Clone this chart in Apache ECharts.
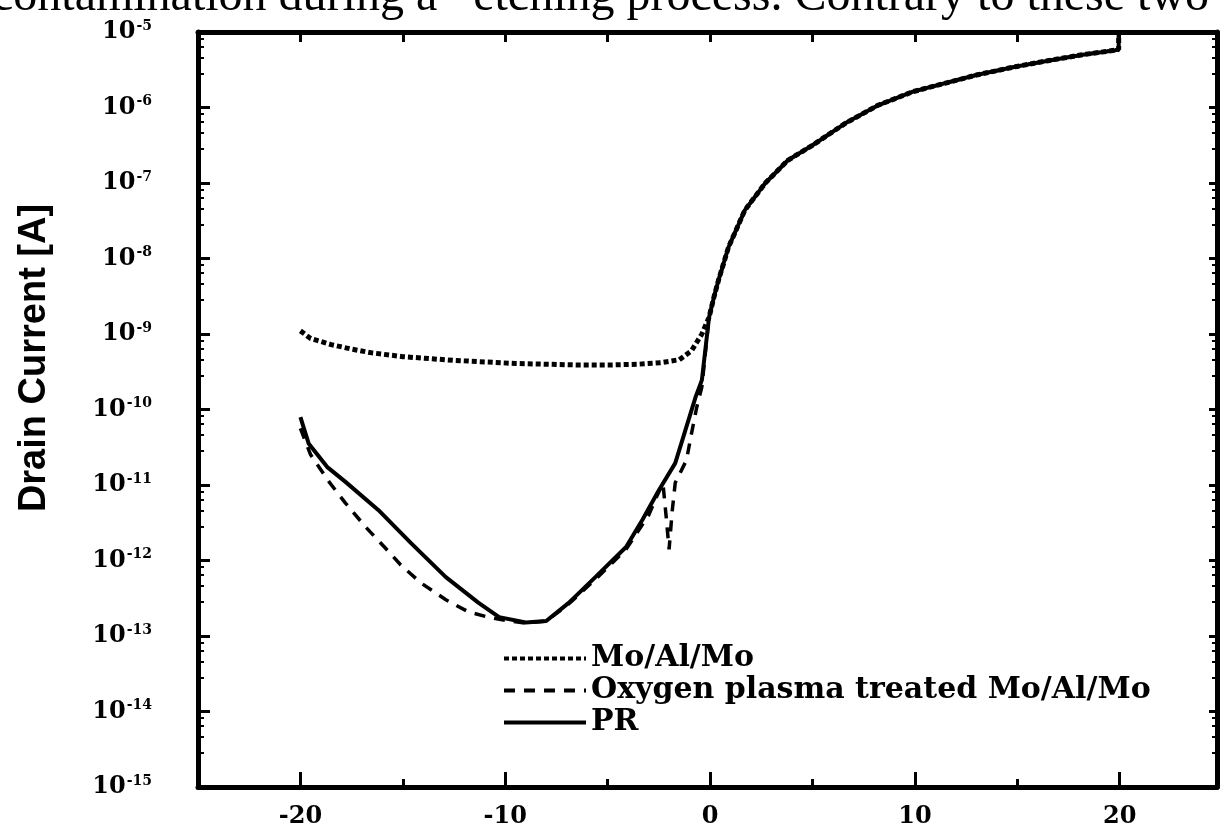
<!DOCTYPE html>
<html>
<head>
<meta charset="utf-8">
<title>Drain Current</title>
<script src="https://cdn.jsdelivr.net/npm/echarts@6.0.0/dist/echarts.min.js"></script>
<style>
  html, body { margin: 0; padding: 0; background: #fff; }
  #chart { width: 1222px; height: 832px; }
</style>
</head>
<body>
<div id="chart"></div>
<script>
// gate voltage [V] and drain current [A]
const moVg = [-20, -19.5, -18.5, -17.5, -16.5, -15, -14, -12.5, -11, -9.5, -8, -6.5, -4.8, -3.5, -2.4, -1.5, -0.9, -0.4];
const moId = [1.10e-9, 8.71e-10, 7.24e-10, 6.31e-10, 5.62e-10, 5.01e-10, 4.79e-10, 4.47e-10, 4.27e-10, 4.07e-10, 3.98e-10, 3.89e-10, 3.89e-10, 3.98e-10, 4.17e-10, 4.57e-10, 6.03e-10, 1.0e-9];

const oxVg = [-20, -19.5, -18.6, -17.8, -16.8, -15.9, -15.1, -14.1, -12.9, -11.8, -10.7, -9.8, -9.0, -8.0, -7.0, -5.6, -4.1, -3.0, -2.6, -2.3, -2.15, -2.0, -1.85, -1.7, -1.15, -0.9, -0.65, -0.4];
const oxId = [5.62e-11, 2.51e-11, 1.10e-11, 5.75e-12, 2.75e-12, 1.51e-12, 8.71e-13, 5.01e-13, 3.02e-13, 2.09e-13, 1.74e-13, 1.58e-13, 1.48e-13, 1.58e-13, 2.51e-13, 5.62e-13, 1.41e-12, 3.98e-12, 7.08e-12, 1.05e-11, 3.98e-12, 1.41e-12, 4.47e-12, 1.07e-11, 2.14e-11, 4.90e-11, 1.07e-10, 2.00e-10];

const prVg = [-20, -19.6, -18.7, -17.8, -16.2, -14.6, -12.9, -11.3, -10.3, -9.0, -8.0, -6.9, -5.6, -4.1, -3.3, -2.5, -1.7, -1.2, -0.7, -0.4];
const prId = [7.94e-11, 3.55e-11, 1.74e-11, 1.10e-11, 4.68e-12, 1.70e-12, 6.03e-13, 2.75e-13, 1.78e-13, 1.51e-13, 1.58e-13, 2.75e-13, 6.03e-13, 1.51e-12, 3.47e-12, 8.51e-12, 1.95e-11, 5.37e-11, 1.48e-10, 2.45e-10];

// on-state branch: the three curves lie on top of each other here
const onVg = [-0.05, 0.2, 0.42, 0.9, 1.7, 2.7, 3.8, 5.0, 6.6, 8.2, 9.9, 11.6, 13.0, 14.9, 16.5, 18.2, 19.8, 19.95, 19.95];
const onId = [1.66e-9, 3.16e-9, 5.25e-9, 1.41e-8, 4.37e-8, 1.0e-7, 2.0e-7, 3.16e-7, 6.17e-7, 1.07e-6, 1.62e-6, 2.14e-6, 2.69e-6, 3.47e-6, 4.17e-6, 5.01e-6, 5.75e-6, 5.9e-6, 1.0e-5];

const seriesNames = ['Mo/Al/Mo', 'Oxygen plasma treated Mo/Al/Mo', 'PR'];
const xLabelTicks = [-20, -10, 0, 10, 20];
const xMinorTicks = [-15, -5, 5, 15];
const xTopTicks = [-20, -15, -10, -5, 0, 5, 10, 15, 20];

function pairs(vg, id) {
  const ids = id.concat(onId);
  return vg.concat(onVg).map(function (v, i) { return [v, ids[i]]; });
}

const serif = 'DejaVu Serif';
const xMin = -25, xMax = 24.75;
const chart = echarts.init(document.getElementById('chart'));

function frameAxisX(pos, ticks, len, showLine) {
  return {
    type: 'value', min: xMin, max: xMax, position: pos,
    splitLine: { show: false },
    axisLine: { show: showLine, onZero: false, lineStyle: { color: '#000', width: 5 } },
    axisTick: { inside: true, length: len, customValues: ticks, lineStyle: { color: '#000', width: 3 } },
    axisLabel: { show: false }
  };
}

const option = {
  animation: false,
  backgroundColor: '#fff',
  grid: { left: 198, right: 5, top: 32, bottom: 45 },
  legend: {
    data: seriesNames,
    orient: 'vertical',
    left: 497,
    top: 638,
    itemWidth: 82,
    itemHeight: 14,
    itemGap: 1,
    itemStyle: { opacity: 0 },
    lineStyle: { width: 4 },
    textStyle: { fontFamily: serif, fontWeight: 'bold', fontSize: 30, color: '#000', lineHeight: 31 }
  },
  graphic: [
    {
      // caption line of the page above, cut off by the crop
      type: 'text',
      x: -8, y: 21,
      style: {
        text: 'contamination during a   etching process. Contrary to these two',
        font: '48px "Liberation Serif"',
        fill: '#000',
        textVerticalAlign: 'bottom'
      }
    },
    {
      type: 'text',
      x: 35, y: 358,
      rotation: Math.PI / 2,
      style: {
        text: 'Drain Current [A]',
        font: 'bold 38px "Liberation Sans"',
        fill: '#000',
        textAlign: 'center',
        textVerticalAlign: 'middle'
      }
    }
  ],
  xAxis: [
    {
      type: 'value', min: xMin, max: xMax, position: 'bottom',
      splitLine: { show: false },
      axisLine: { onZero: false, lineStyle: { color: '#000', width: 5 } },
      axisTick: { inside: true, length: 15, customValues: xLabelTicks, lineStyle: { color: '#000', width: 3 } },
      axisLabel: {
        customValues: xLabelTicks, margin: 18,
        fontFamily: serif, fontWeight: 'bold', fontSize: 24, color: '#000'
      }
    },
    frameAxisX('bottom', xMinorTicks, 8, false),
    frameAxisX('top', xTopTicks, 10, true)
  ],
  yAxis: [
    {
      type: 'log', logBase: 10, min: 1e-15, max: 1e-5, interval: 1, position: 'left',
      splitLine: { show: false },
      axisLine: { onZero: false, lineStyle: { color: '#000', width: 5 } },
      axisTick: { inside: true, length: 12, lineStyle: { color: '#000', width: 3 } },
      minorTick: { show: true, splitNumber: 5, length: 6, lineStyle: { color: '#000', width: 2 } },
      axisLabel: {
        margin: 46,
        formatter: function (v) {
          return '{b|10}{s|' + Math.round(Math.log10(v)) + '}';
        },
        rich: {
          b: { fontFamily: serif, fontWeight: 'bold', fontSize: 24, color: '#000' },
          s: { fontFamily: serif, fontWeight: 'bold', fontSize: 14, color: '#000', verticalAlign: 'bottom', padding: [0, 0, 12, 1] }
        }
      }
    },
    {
      type: 'log', logBase: 10, min: 1e-15, max: 1e-5, interval: 1, position: 'right',
      splitLine: { show: false },
      axisLine: { onZero: false, lineStyle: { color: '#000', width: 5 } },
      axisTick: { inside: true, length: 8, lineStyle: { color: '#000', width: 3 } },
      minorTick: { show: true, splitNumber: 5, length: 5, lineStyle: { color: '#000', width: 2 } },
      axisLabel: { show: false }
    }
  ],
  series: [
    {
      name: seriesNames[0], type: 'line', symbol: 'none',
      data: pairs(moVg, moId),
      itemStyle: { color: '#000' },
      lineStyle: { color: '#000', width: 5, type: [5, 3] }
    },
    {
      name: seriesNames[1], type: 'line', symbol: 'none',
      data: pairs(oxVg, oxId),
      itemStyle: { color: '#000' },
      lineStyle: { color: '#000', width: 3.5, type: [11, 9] }
    },
    {
      name: seriesNames[2], type: 'line', symbol: 'none',
      data: pairs(prVg, prId),
      itemStyle: { color: '#000' },
      lineStyle: { color: '#000', width: 4, type: 'solid' }
    }
  ]
};

chart.setOption(option);
</script>
</body>
</html>
